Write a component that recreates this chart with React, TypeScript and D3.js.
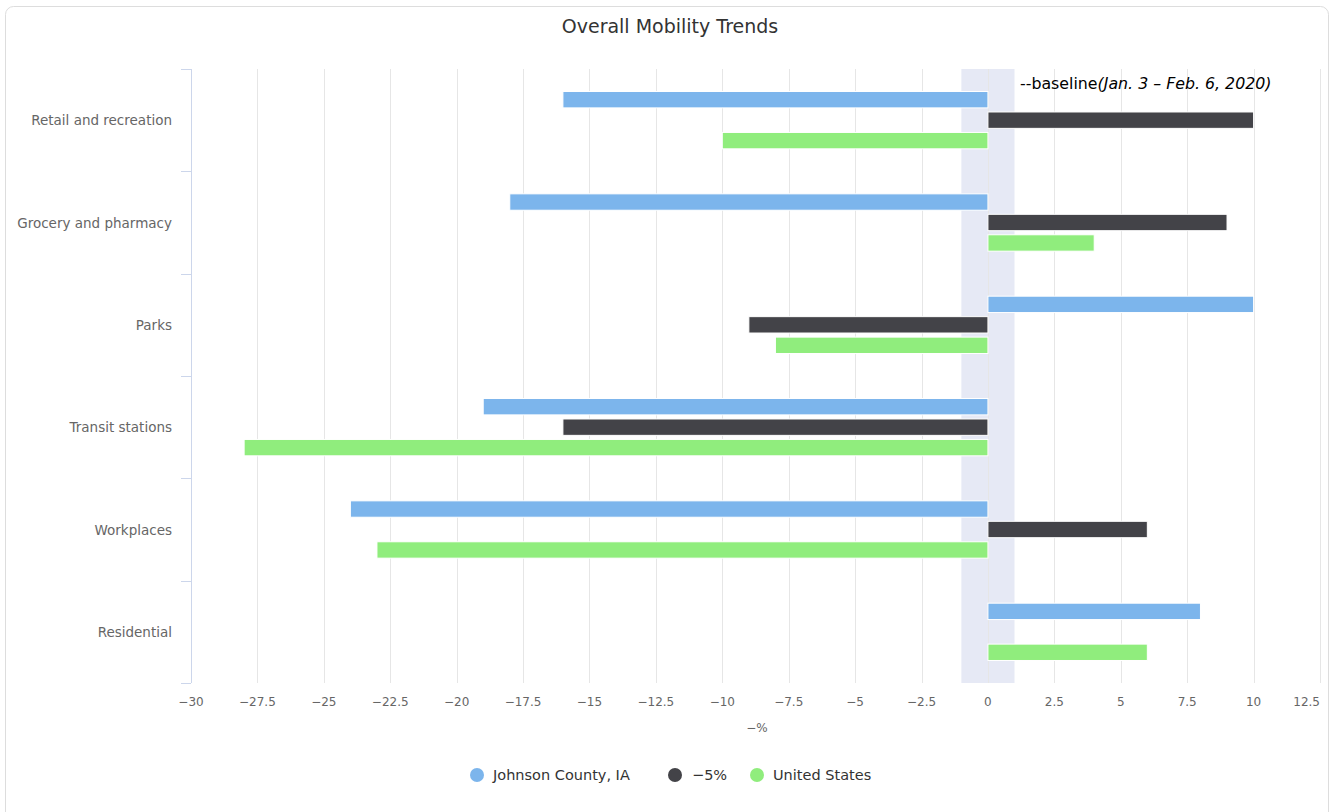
import React from "react";
import * as d3 from "d3";

const categories = [
  "Retail and recreation",
  "Grocery and pharmacy",
  "Parks",
  "Transit stations",
  "Workplaces",
  "Residential",
];
const seriesNames = ["Johnson County, IA", "−5%", "United States"];
const seriesColors = ["#7cb5ec", "#434348", "#90ed7d"];
const johnsonCounty: (number | null)[] = [-16, -18, 10, -19, -24, 8];
const minusFive: (number | null)[] = [10, 9, -9, -16, 6, null];
const unitedStates: (number | null)[] = [-10, 4, -8, -28, -23, 6];
const seriesValues = [johnsonCounty, minusFive, unitedStates];
const xTicks = [-30, -27.5, -25, -22.5, -20, -17.5, -15, -12.5, -10, -7.5, -5, -2.5, 0, 2.5, 5, 7.5, 10, 12.5];
const baselineBand = [-1, 1];

const W = 1332;
const H = 812;
const FONT = '"DejaVu Sans", "Lucida Grande", sans-serif';

function fmt(v: number) {
  const s = String(Math.abs(v));
  return v < 0 ? "−" + s : s;
}

export default function App() {
  const left = 191;
  const right = 1320;
  const top = 69;
  const bottom = 683;
  const x = d3.scaleLinear().domain([-30, 12.5]).range([left, right]);
  const y = d3.scaleBand<string>().domain(categories).range([top, bottom]).padding(0);
  const bw = y.bandwidth();
  const inner = d3
    .scaleBand<string>()
    .domain(seriesNames)
    .range([0.2 * bw, 0.8 * bw])
    .paddingInner(0.2)
    .paddingOuter(0.1);

  const legendItems = [
    { cx: 477, tx: 493 },
    { cx: 675, tx: 692 },
    { cx: 757, tx: 773 },
  ];

  return (
    <svg
      width={W}
      height={H}
      style={{ position: "absolute", left: 0, top: 0, fontFamily: FONT }}
    >
      <rect x={0} y={0} width={W} height={H} fill="#ffffff" />
      <rect x={5.5} y={6.5} width={1323} height={820} rx={8} fill="#ffffff" stroke="#dddddd" />
      <text x={670} y={33} textAnchor="middle" fontSize={19} fill="#333333">
        Overall Mobility Trends
      </text>
      {/* plot band */}
      <rect
        x={x(baselineBand[0])}
        y={top}
        width={x(baselineBand[1]) - x(baselineBand[0])}
        height={bottom - top}
        fill="#e6e9f5"
      />
      {/* grid */}
      {xTicks.map((t) => (
        <line
          key={"g" + t}
          x1={Math.round(x(t)) + 0.5}
          x2={Math.round(x(t)) + 0.5}
          y1={top}
          y2={bottom}
          stroke="#e6e6e6"
          strokeWidth={1}
        />
      ))}
      {/* category axis */}
      <line x1={left + 0.5} x2={left + 0.5} y1={top} y2={bottom} stroke="#ccd6eb" />
      {d3.range(categories.length + 1).map((i) => {
        const yy = Math.round(top + i * bw) + 0.5;
        return <line key={"t" + i} x1={left - 10} x2={left} y1={yy} y2={yy} stroke="#ccd6eb" />;
      })}
      {categories.map((c) => (
        <text
          key={c}
          x={172}
          y={(y(c) as number) + bw / 2 + 5}
          textAnchor="end"
          fontSize={13.5}
          fill="#666666"
        >
          {c}
        </text>
      ))}
      {/* bars */}
      {seriesValues.map((vals, si) =>
        vals.map((v, ci) => {
          if (v === null) return null;
          const by = (y(categories[ci]) as number) + (inner(seriesNames[si]) as number);
          const x0 = x(Math.min(0, v));
          const x1 = x(Math.max(0, v));
          return (
            <rect
              key={si + "-" + ci}
              x={x0}
              y={by}
              width={x1 - x0}
              height={inner.bandwidth()}
              fill={seriesColors[si]}
              stroke="#ffffff"
              strokeWidth={1}
            />
          );
        })
      )}
      {/* baseline label */}
      <text x={1020} y={89} fontSize={15.8} fill="#000000">
        --baseline<tspan fontStyle="italic">(Jan. 3 – Feb. 6, 2020)</tspan>
      </text>
      {/* x tick labels */}
      {xTicks.map((t, i) => {
        const last = i === xTicks.length - 1;
        return (
          <text
            key={"l" + t}
            x={last ? right : x(t)}
            y={706}
            textAnchor={last ? "end" : "middle"}
            fontSize={12}
            fill="#666666"
          >
            {fmt(t)}
          </text>
        );
      })}
      <text x={757} y={732} textAnchor="middle" fontSize={12} fill="#666666">
        −%
      </text>
      {/* legend */}
      {seriesNames.map((n, i) => (
        <g key={n}>
          <circle cx={legendItems[i].cx} cy={775} r={7} fill={seriesColors[i]} />
          <text x={legendItems[i].tx} y={780} fontSize={14.5} fill="#333333">
            {n}
          </text>
        </g>
      ))}
    </svg>
  );
}
